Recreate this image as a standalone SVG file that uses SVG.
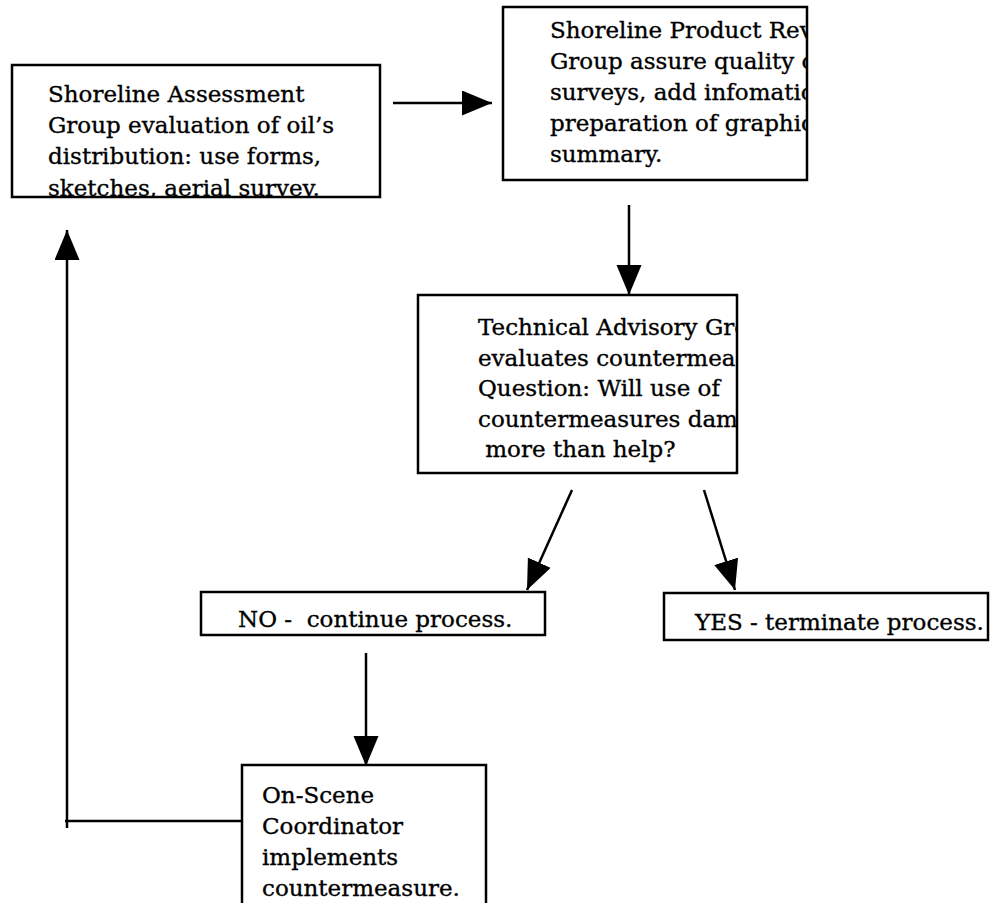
<svg xmlns="http://www.w3.org/2000/svg" width="998" height="903" viewBox="0 0 998 903">
<style>
.box{fill:#fff;stroke:#000;stroke-width:2.5}
.t{font-family:"DejaVu Serif","Liberation Serif",serif;font-size:23px;fill:#000;stroke:#000;stroke-width:0.35}
.c{fill:none;stroke:#000;stroke-width:2.5}
</style>
<defs>
<marker id="ah" markerUnits="userSpaceOnUse" markerWidth="32" markerHeight="26" refX="30" refY="12.5" orient="auto">
<path d="M0,0 L30,12.5 L0,25 z" fill="#000"/>
</marker>
<clipPath id="cp1"><rect x="12" y="65" width="368" height="132"/></clipPath>
<clipPath id="cp2"><rect x="503" y="7" width="304" height="173"/></clipPath>
<clipPath id="cp3"><rect x="418" y="295" width="319" height="178"/></clipPath>
<clipPath id="cp4"><rect x="201" y="592" width="344" height="43"/></clipPath>
<clipPath id="cp5"><rect x="664" y="593" width="324" height="47"/></clipPath>
<clipPath id="cp6"><rect x="242" y="765" width="244" height="140"/></clipPath>
</defs>
<rect width="998" height="903" fill="#fff"/>
<g id="connectors">
<path class="c" d="M393,103 H492" marker-end="url(#ah)"/>
<path class="c" d="M629,205 V295" marker-end="url(#ah)"/>
<path class="c" d="M572,490 L527,590" marker-end="url(#ah)"/>
<path class="c" d="M704,490 L735,590" marker-end="url(#ah)"/>
<path class="c" d="M366,653 V766" marker-end="url(#ah)"/>
<path class="c" d="M241,821 H65"/>
<path class="c" d="M67,828 V230" marker-end="url(#ah)"/>
</g>
<g id="assessment">
<rect class="box" x="12" y="65" width="368" height="132"/>
<g clip-path="url(#cp1)">
<text class="t" x="48" y="102">Shoreline Assessment</text>
<text class="t" x="48" y="133">Group evaluation of oil’s</text>
<text class="t" x="48" y="164">distribution: use forms,</text>
<text class="t" x="48" y="196">sketches, aerial survey.</text>
</g>
</g>
<g id="review">
<rect class="box" x="503" y="7" width="304" height="173"/>
<g clip-path="url(#cp2)">
<text class="t" x="550" y="38">Shoreline Product Review</text>
<text class="t" x="550" y="69">Group assure quality of field</text>
<text class="t" x="550" y="100">surveys, add infomation,</text>
<text class="t" x="550" y="131">preparation of graphic</text>
<text class="t" x="550" y="162">summary.</text>
</g>
</g>
<g id="technical">
<rect class="box" x="418" y="295" width="319" height="178"/>
<g clip-path="url(#cp3)">
<text class="t" x="478" y="335">Technical Advisory Group</text>
<text class="t" x="478" y="366">evaluates countermeasure.</text>
<text class="t" x="478" y="396">Question: Will use of</text>
<text class="t" x="478" y="427">countermeasures damage</text>
<text class="t" x="478" y="457" xml:space="preserve"> more than help?</text>
</g>
</g>
<g id="no">
<rect class="box" x="201" y="592" width="344" height="43"/>
<g clip-path="url(#cp4)">
<text class="t" x="238" y="627" xml:space="preserve">NO -  continue process.</text>
</g>
</g>
<g id="yes">
<rect class="box" x="664" y="593" width="324" height="47"/>
<g clip-path="url(#cp5)">
<text class="t" x="695" y="630">YES - terminate process.</text>
</g>
</g>
<g id="osc">
<path class="box" d="M242,905 V765 H486 V905"/>
<g clip-path="url(#cp6)">
<text class="t" x="262" y="803">On-Scene</text>
<text class="t" x="262" y="834">Coordinator</text>
<text class="t" x="262" y="865">implements</text>
<text class="t" x="262" y="896">countermeasure.</text>
</g>
</g>
</svg>
